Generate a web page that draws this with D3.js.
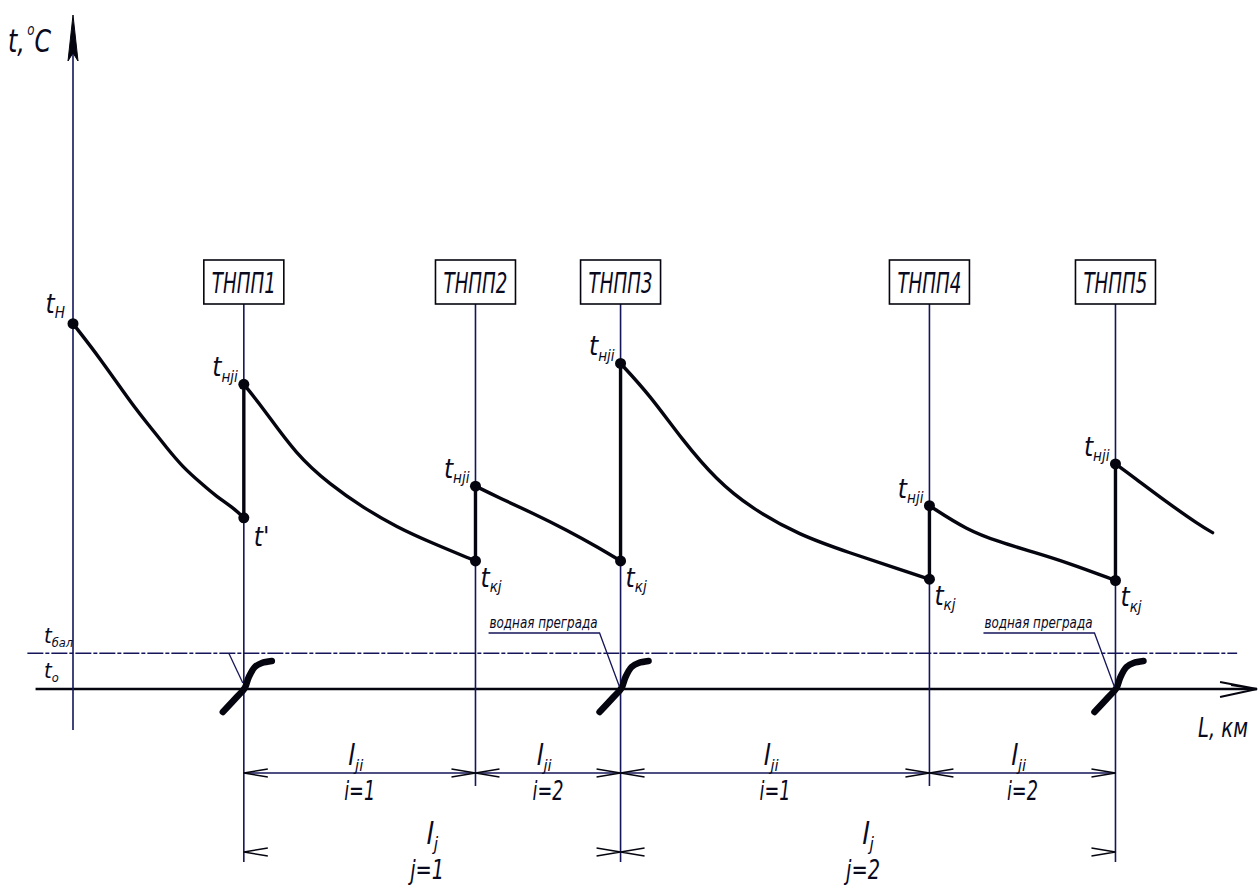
<!DOCTYPE html>
<html><head><meta charset="utf-8">
<script src="https://cdn.jsdelivr.net/npm/d3@7"></script>
<style>
html,body{margin:0;padding:0;background:#fff;}
svg{display:block;}
text{font-family:"Liberation Sans Narrow","DejaVu Sans Condensed","Roboto Condensed","Liberation Sans",sans-serif;font-style:italic;fill:#0a0a1e;}
</style></head><body>
<svg id="chart" width="1259" height="888"></svg>
<script>
// ---------- data ----------
const stationNames = ["ТНПП1", "ТНПП2", "ТНПП3", "ТНПП4", "ТНПП5"];
const stationL = [14.6, 34.4, 46.8, 73.2, 89.1];          // L, km (schematic)
const tBal = 5.3;                                          // t бал
const t0 = 0;                                              // t0
// temperature curves between stations: [L, t]
const curve0 = [[0, 54.2], [2.3, 49.1], [5.1, 42.1], [6.6, 38.9], [8.0, 35.8], [9.4, 32.9], [10.9, 30.6], [12.3, 28.5], [13.7, 26.9], [14.6, 25.4]];
const curve1 = [[14.6, 45.2], [16.2, 41.8], [19.1, 34.7], [22.0, 30.3], [24.8, 26.9], [27.7, 24.0], [30.5, 21.8], [34.4, 19.0]];
const curve2 = [[34.4, 30.1], [36.5, 28.3], [39.3, 26.1], [42.2, 23.6], [45.0, 20.9], [46.8, 19.0]];
const curve3 = [[46.8, 48.3], [49.3, 43.6], [52.1, 36.9], [55.0, 31.0], [57.9, 26.9], [62.1, 22.8], [66.4, 20.2], [70.7, 17.7], [73.2, 16.3]];
const curve4 = [[73.2, 27.2], [76.4, 23.6], [79.2, 21.8], [82.1, 20.3], [84.9, 18.8], [89.1, 16.1]];
const curve5 = [[89.1, 33.4], [90.6, 31.5], [93.5, 27.7], [96.3, 24.3], [97.4, 23.2]];
const curves = [curve0, curve1, curve2, curve3, curve4, curve5];
// dimension spans (station indices) and captions
const spanI = [[0, 1], [1, 2], [2, 3], [3, 4]];
const spanILabels = ["i=1", "i=2", "i=1", "i=2"];
const spanJ = [[0, 2], [2, 4]];
const spanJLabels = ["j=1", "j=2"];
const barrierStations = [0, 2, 4];
const barrierLabels = ["", "водная преграда", "водная преграда"];

// ---------- drawing ----------
const W = 1259, H = 888;
const svg = d3.select("#chart");
svg.append("rect").attr("width", W).attr("height", H).attr("fill", "#fff");
const x = d3.scaleLinear().domain([0, 100]).range([73, 1243]);
const y = d3.scaleLinear().domain([0, 100]).range([689, 15]);
const ink = "#050510", thin = "#15155a";

function subLabel(px, py, main, sub, anchor, size) {
  const t = svg.append("text").attr("x", px).attr("y", py)
    .attr("text-anchor", anchor).attr("font-size", size);
  t.append("tspan").text(main);
  t.append("tspan").attr("font-size", size * 0.58).attr("dy", size * 0.2).text(sub);
  return t;
}

// t бал dashed line
svg.append("line").attr("x1", x(-3.9)).attr("x2", x(99.5))
  .attr("y1", y(tBal)).attr("y2", y(tBal))
  .attr("stroke", thin).attr("stroke-width", 1.4).attr("stroke-dasharray", "16,2,4,2");

// x axis (t0 line)
const axY = y(t0);
svg.append("line").attr("x1", x(-3.2)).attr("x2", x(101.2)).attr("y1", axY).attr("y2", axY)
  .attr("stroke", ink).attr("stroke-width", 2.6);
svg.append("path").attr("d", `M${x(101.2) - 37},${axY - 7} L${x(101.2)},${axY} L${x(101.2) - 37},${axY + 8} M${x(101.2) - 26},${axY - 4} L${x(101.2)},${axY}`)
  .attr("stroke", ink).attr("stroke-width", 2).attr("fill", "none");

// y axis
svg.append("line").attr("x1", x(0)).attr("x2", x(0)).attr("y1", y(-6.1)).attr("y2", y(98))
  .attr("stroke", thin).attr("stroke-width", 1.6);
svg.append("path").attr("d", `M${x(0)},${y(100)} L${x(0) - 5},${y(100) + 46} L${x(0)},${y(100) + 38} L${x(0) + 5},${y(100) + 46} Z`)
  .attr("fill", ink).attr("stroke", ink).attr("stroke-width", 1);

// axis titles
const tc = svg.append("text").attr("x", 8).attr("y", 52).attr("font-size", 32)
  .attr("textLength", 43).attr("lengthAdjust", "spacingAndGlyphs");
tc.append("tspan").text("t,");
tc.append("tspan").attr("font-size", 16).attr("dy", -17).attr("dx", 3).text("o");
tc.append("tspan").attr("dy", 17).text("C");
svg.append("text").attr("x", 1198).attr("y", 737).attr("font-size", 27)
  .attr("textLength", 50).attr("lengthAdjust", "spacingAndGlyphs").text("L, км");

// y-level labels
subLabel(44, 643, "t", "бал", "start", 22);
subLabel(44, 678, "t", "o", "start", 22);

// stations: lines and boxes
stationL.forEach((L, i) => {
  const sx = x(L);
  const bottom = (i % 2 === 0) ? 862 : 786;
  svg.append("line").attr("x1", sx).attr("x2", sx).attr("y1", 304).attr("y2", bottom)
    .attr("stroke", thin).attr("stroke-width", 1.6);
  svg.append("rect").attr("x", sx - 40).attr("y", 260).attr("width", 80).attr("height", 44)
    .attr("fill", "#fff").attr("stroke", ink).attr("stroke-width", 1.6);
  svg.append("text").attr("x", sx).attr("y", 293).attr("text-anchor", "middle")
    .attr("font-size", 29).attr("textLength", 64).attr("lengthAdjust", "spacingAndGlyphs")
    .text(stationNames[i]);
});

// water barriers
const barrierShape = [[-21, 23], [-7, 8], [1, -1], [5, -12], [11, -22], [18, -26], [28, -28]];
const bLine = d3.line().curve(d3.curveCatmullRom);
barrierStations.forEach((si, k) => {
  const sx = x(stationL[si]);
  svg.append("path").attr("d", bLine(barrierShape.map(p => [sx + p[0], axY + p[1]])))
    .attr("fill", "none").attr("stroke", ink).attr("stroke-width", 6.5).attr("stroke-linecap", "round");
  if (barrierLabels[k]) {
    svg.append("text").attr("x", sx - 23).attr("y", 628).attr("text-anchor", "end")
      .attr("font-size", 16).attr("textLength", 108).attr("lengthAdjust", "spacingAndGlyphs")
      .text(barrierLabels[k]);
    svg.append("path").attr("d", `M${sx - 132},633 L${sx - 21},633 L${sx - 1},${axY - 2}`)
      .attr("fill", "none").attr("stroke", thin).attr("stroke-width", 1.3);
  } else {
    svg.append("path").attr("d", `M${sx - 15},${y(tBal)} L${sx - 1},${axY - 6}`)
      .attr("fill", "none").attr("stroke", thin).attr("stroke-width", 1.3);
  }
});

// curves
const line = d3.line().x(d => x(d[0])).y(d => y(d[1])).curve(d3.curveBasis);
curves.forEach(c => {
  svg.append("path").attr("d", line(c)).attr("fill", "none")
    .attr("stroke", ink).attr("stroke-width", 3.4).attr("stroke-linecap", "round");
});
// jumps at stations
for (let i = 1; i < curves.length; i++) {
  const prev = curves[i - 1][curves[i - 1].length - 1];
  const next = curves[i][0];
  svg.append("line").attr("x1", x(next[0])).attr("x2", x(next[0]))
    .attr("y1", y(prev[1])).attr("y2", y(next[1]))
    .attr("stroke", ink).attr("stroke-width", 3.4);
}
// dots
curves.forEach((c, i) => {
  const pts = [c[0]];
  if (i < curves.length - 1) pts.push(c[c.length - 1]);
  pts.forEach(p => svg.append("circle").attr("cx", x(p[0])).attr("cy", y(p[1])).attr("r", 5.5).attr("fill", ink));
});

// point labels
subLabel(x(curve0[0][0]) - 8, y(curve0[0][1]) - 11, "t", "Н", "end", 26);
curves.slice(1).forEach(c => {
  subLabel(x(c[0][0]) - 6, y(c[0][1]) - 8, "t", "нji", "end", 26);
});
curves.slice(0, 5).forEach((c, i) => {
  const p = c[c.length - 1];
  if (i === 0) {
    svg.append("text").attr("x", x(p[0]) + 10).attr("y", y(p[1]) + 28).attr("font-size", 26).text("t'");
  } else {
    subLabel(x(p[0]) + 5, y(p[1]) + 26, "t", "кj", "start", 26);
  }
});

// dimension lines l_ji
const dimY = 773, dimJY = 852;
function arrowHead(tx, ty, dir) {
  svg.append("path")
    .attr("d", `M${tx - dir * 24},${ty - 4} L${tx},${ty} L${tx - dir * 24},${ty + 4}`)
    .attr("fill", "none").attr("stroke", ink).attr("stroke-width", 1.4);
}
svg.append("line").attr("x1", x(stationL[0])).attr("x2", x(stationL[4]))
  .attr("y1", dimY).attr("y2", dimY).attr("stroke", thin).attr("stroke-width", 1.5);
spanI.forEach((s, k) => {
  const a = x(stationL[s[0]]), b = x(stationL[s[1]]);
  arrowHead(a, dimY, -1);
  arrowHead(b, dimY, 1);
  const cx = (a + b) / 2;
  subLabel(cx - 4, dimY - 8, "l", "ji", "middle", 28);
  svg.append("text").attr("x", cx).attr("y", dimY + 27).attr("text-anchor", "middle")
    .attr("font-size", 27).attr("textLength", 31).attr("lengthAdjust", "spacingAndGlyphs").text(spanILabels[k]);
});
spanJ.forEach((s, k) => {
  const a = x(stationL[s[0]]), b = x(stationL[s[1]]);
  arrowHead(a, dimJY, -1);
  arrowHead(b, dimJY, 1);
  const cx = (a + b) / 2;
  subLabel(cx, dimJY - 8, "l", "j", "middle", 30);
  svg.append("text").attr("x", cx - 5).attr("y", 879).attr("text-anchor", "middle")
    .attr("font-size", 26).attr("textLength", 34).attr("lengthAdjust", "spacingAndGlyphs").text(spanJLabels[k]);
});
</script></body></html>
